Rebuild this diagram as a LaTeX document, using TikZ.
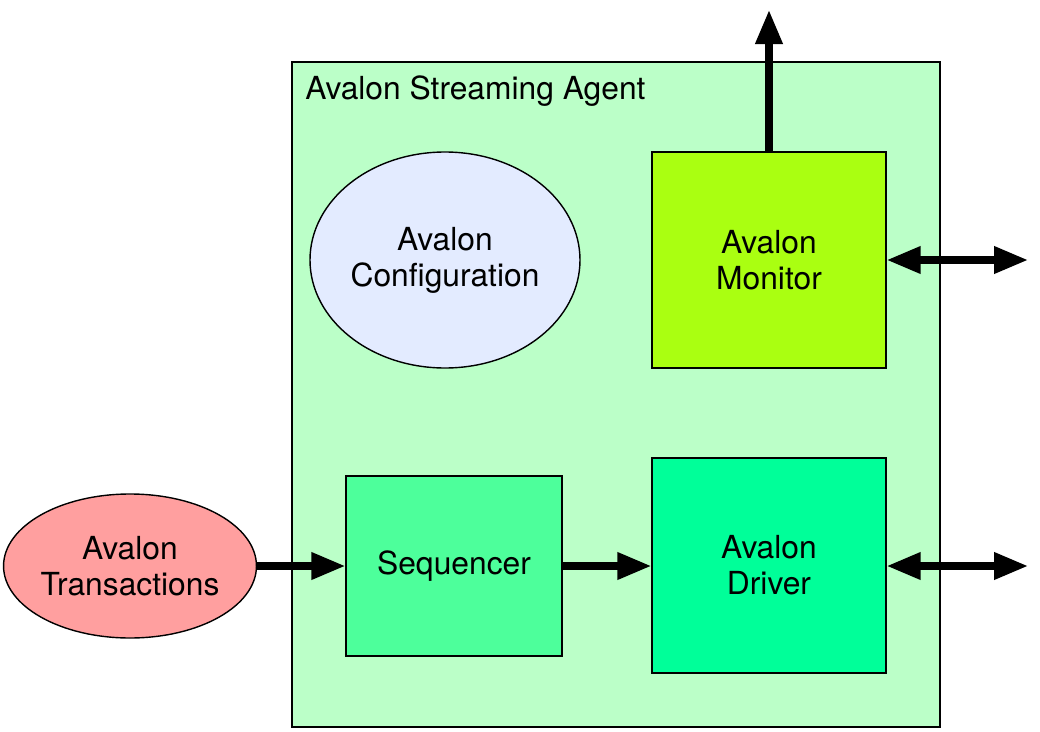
\documentclass[tikz,border=0pt]{standalone}
\usepackage{fontspec}
\setmainfont{TeX Gyre Heros}
\usetikzlibrary{arrows.meta,shapes.geometric}

\definecolor{agentgreen}{HTML}{BBFFC8}
\definecolor{configblue}{HTML}{E3EBFF}
\definecolor{monitorlime}{HTML}{AAFF11}
\definecolor{drivergreen}{HTML}{00FF99}
\definecolor{seqgreen}{HTML}{4DFF9B}
\definecolor{transred}{HTML}{FF9F9F}

\tikzset{
    blockbox/.style={draw=black, line width=1pt, align=center, inner sep=0pt},
    blobnode/.style={draw=black, line width=1pt, ellipse, align=center, inner sep=0pt},
    flow/.style={line width=5pt, -{Triangle[length=0.85cm,width=0.65cm]}},
    bothflow/.style={line width=5pt, {Triangle[length=0.85cm,width=0.65cm]}-{Triangle[length=0.85cm,width=0.65cm]}}
}

\begin{document}
\begin{tikzpicture}[font=\fontsize{22.6pt}{25.6pt}\selectfont]

        \useasboundingbox (0,0) rectangle (26,-18.3);

        % agent frame
        \node[blockbox, fill=agentgreen, minimum width=16.2cm, minimum height=16.625cm] (agent) at (15.4,-9.8625) {};
        \node[anchor=west, inner sep=0pt] (agentlabel) at (7.625,-2.28) {Avalon Streaming Agent};

        % inner parts
        \node[blobnode, fill=configblue, minimum width=6.75cm, minimum height=5.4cm] (config) at (11.125,-6.5) {Avalon\\Configuration};
        \node[blockbox, fill=monitorlime, minimum width=5.85cm, minimum height=5.4cm] (monitor) at (19.225,-6.5) {Avalon\\Monitor};
        \node[blockbox, fill=drivergreen, minimum width=5.85cm, minimum height=5.375cm] (driver) at (19.225,-14.1375) {Avalon\\Driver};
        \node[blockbox, fill=seqgreen, minimum width=5.4cm, minimum height=4.5cm] (sequencer) at (11.35,-14.15) {Sequencer};

        % outside
        \node[blobnode, fill=transred, minimum width=6.3cm, minimum height=3.6cm] (trans) at (3.25,-14.15) {Avalon\\Transactions};

        \coordinate (monout) at (19.225,-0.25);
        \coordinate (monport) at (25.7,-6.5);
        \coordinate (drvport) at (25.7,-14.15);

        \draw[flow] (trans.east) -- (sequencer.west);
        \draw[flow] (sequencer.east) -- (driver.west |- sequencer.east);
        \draw[flow] (monitor.north) -- (monout);
        \draw[bothflow] (monitor.east) -- (monport);
        \draw[bothflow] (driver.east |- drvport) -- (drvport);

\end{tikzpicture}
\end{document}
